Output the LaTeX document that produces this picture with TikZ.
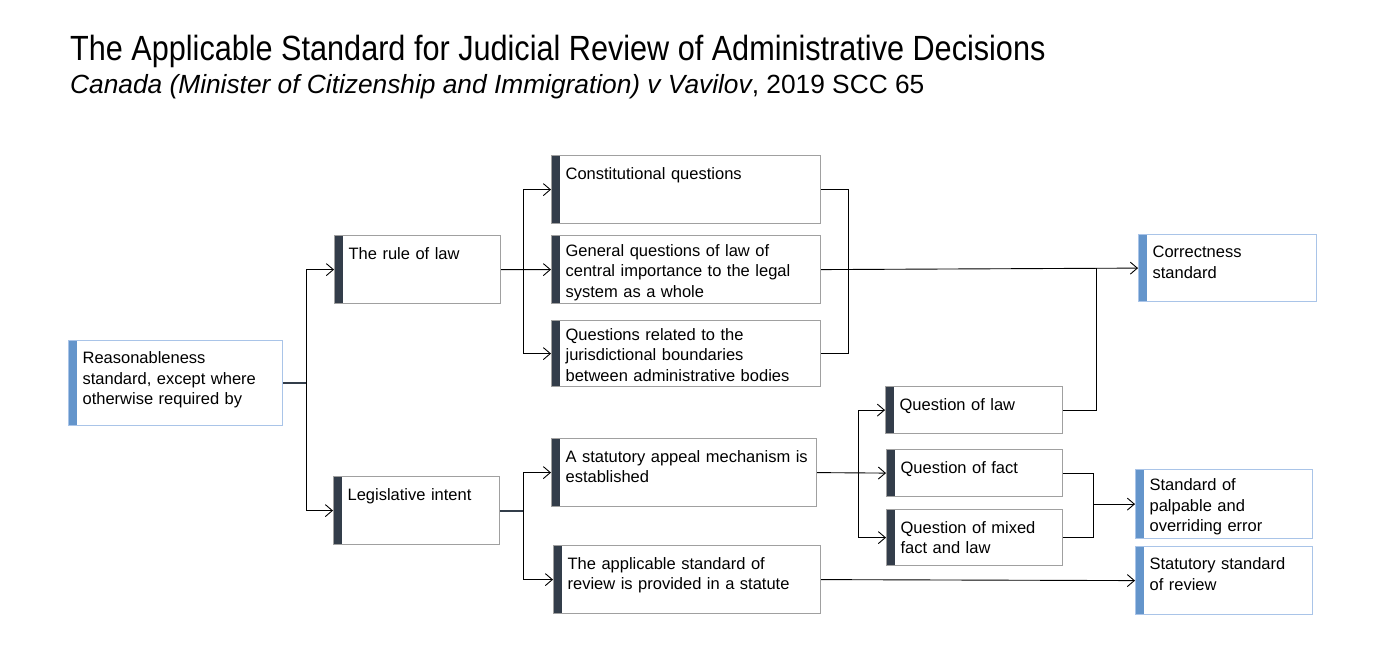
\documentclass[tikz,border=0pt]{standalone}
\usepackage{fontspec}
\setmainfont{Liberation Sans}
\newfontfamily\titlefont[FakeStretch=0.875]{Liberation Sans}
\usepackage{xcolor}
\usepackage{tikz}
\usetikzlibrary{arrows.meta, positioning, calc}
\definecolor{barDark}{HTML}{333D4A}
\definecolor{barBlue}{HTML}{6495CB}
\definecolor{edgeGray}{HTML}{A0A0A0}
\definecolor{edgeBlue}{HTML}{A9C4E8}
\tikzset{
  box/.style={rectangle, draw=edgeGray, line width=1.2pt, fill=white, inner xsep=14pt, inner ysep=0pt, align=left, anchor=north west, font=\fontsize{16.5}{20.5}\selectfont, path picture={\fill[barDark] (path picture bounding box.north west) rectangle ([xshift=8.5pt]path picture bounding box.south west);}},
  bluebox/.style={box, draw=edgeBlue, path picture={\fill[barBlue] (path picture bounding box.north west) rectangle ([xshift=8.5pt]path picture bounding box.south west);}},
  boxsize/.style n args={3}{text width=#1pt-28pt, text height=#3pt, text depth=#2pt-#3pt},
  arrow/.style={line width=0.9pt, -{Straight Barb[length=7pt, width=12pt]}},
  link/.style={line width=0.9pt},
  stub/.style={line width=2pt, draw=barDark}
}
\begin{document}
\begin{tikzpicture}[x=1pt, y=-1pt]
\useasboundingbox (0,0) rectangle (1385,655);

% Title
\node (title) [anchor=base west, inner sep=0pt, font=\titlefont\fontsize{35}{40}\selectfont] at (70,61) {The Applicable Standard for Judicial Review of Administrative Decisions};
\node (subtitle) [anchor=base west, inner sep=0pt, font=\fontsize{26.3}{30}\selectfont] at (70,94) {\textit{Canada (Minister of Citizenship and Immigration) v Vavilov}, 2019 SCC 65};

% Starting point
\node (reas) [bluebox, boxsize={214}{85}{23}] at (68,340) {Reasonableness\\standard, except where\\otherwise required by};

% Exceptions
\node (rule) [box, boxsize={166}{68}{23.5}] at (334,235) {The rule of law};
\node (legis) [box, boxsize={166}{68}{23.5}] at (333,476) {Legislative intent};

% Rule of law categories
\node (const) [box, boxsize={269}{68}{23.5}] at (551,155) {Constitutional questions};
\node (general) [box, boxsize={269}{68}{20.5}, below=10.8pt of const] {General questions of law of\\central importance to the legal\\system as a whole};
\node (juris) [box, boxsize={269}{66}{19.5}, below=15.8pt of general] {Questions related to the\\jurisdictional boundaries\\between administrative bodies};

% Legislative intent categories
\node (appeal) [box, boxsize={265}{68}{23.5}] at (551,438) {\mbox{A statutory appeal mechanism is}\\established};
\node (applic) [box, boxsize={267}{68}{23.5}] at (553,545) {The applicable standard of\\review is provided in a statute};

% Appeal questions
\node (qlaw) [box, boxsize={177}{47}{23.5}] at (885,386) {Question of law};
\node (qfact) [box, boxsize={176}{47}{23.5}] at (886,449) {Question of fact};
\node (qmixed) [box, boxsize={176}{56}{23.5}, below=11.8pt of qfact] {Question of mixed\\fact and law};

% Outcomes
\node (correct) [bluebox, boxsize={178}{67}{23}] at (1138,234) {Correctness\\standard};
\node (palpable) [bluebox, boxsize={177}{69}{21}] at (1135,469) {Standard of\\palpable and\\overriding error};
\node (statutory) [bluebox, boxsize={177}{68}{23}, below=6.8pt of palpable] {Statutory standard\\of review};

% Connectors
\coordinate (fork1) at ([xshift=23pt]reas.east);
\draw [stub] (reas.east) -- (fork1);
\draw [arrow] (fork1) |- (rule.west);
\draw [arrow] (fork1) |- (legis.west);

\coordinate (fork2) at ([xshift=22pt]rule.east);
\draw [arrow] (rule.east) -- (general.west);
\draw [arrow] (fork2) |- (const.west);
\draw [arrow] (fork2) |- (juris.west);

\draw [link] (const.east) -- ++(27,0) |- (juris.east);
\draw [arrow] (general.east) -- (correct.west);
\coordinate (join1) at ($(qlaw.east |- correct.west)+(33,0)$);
\draw [link] (qlaw.east) -| (join1);

\coordinate (fork3) at ([xshift=23pt]legis.east);
\draw [stub] (legis.east) -- (fork3);
\draw [arrow] (fork3) |- (appeal.west);
\draw [arrow] (fork3) |- (applic.west);

\coordinate (fork4) at ([xshift=41pt]appeal.east);
\draw [arrow] (appeal.east) -- (qfact.west);
\draw [arrow] (fork4) |- (qlaw.west);
\draw [arrow] (fork4) |- (qmixed.west);

\draw [link] (qfact.east) -- ++(30,0) |- (qmixed.east);
\coordinate (join2) at ($(qfact.east |- palpable.west)+(30,0)$);
\draw [arrow] (join2) -- (palpable.west);

\draw [arrow] (applic.east) -- (statutory.west);

\end{tikzpicture}
\end{document}
